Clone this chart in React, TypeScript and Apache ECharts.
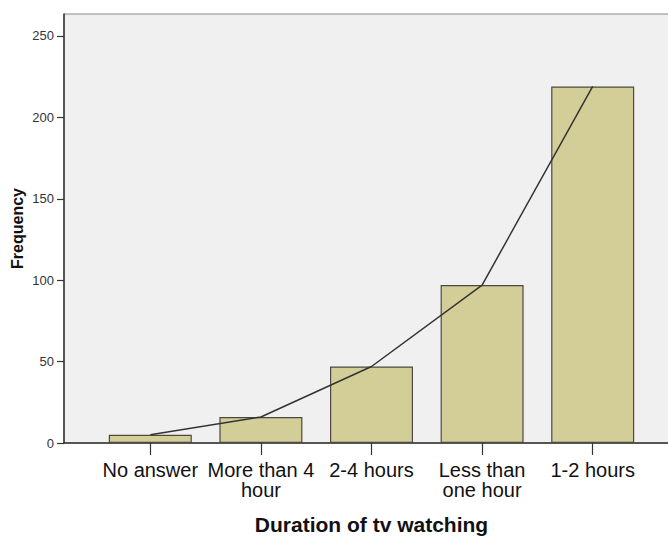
import React, { useEffect, useRef } from "react";
import * as echarts from "echarts";

const categories = ["No answer", "More than 4\nhour", "2-4 hours", "Less than\none hour", "1-2 hours"];
const frequencies = [5, 16, 47, 97, 219];
const yTicks = [0, 50, 100, 150, 200, 250];
const yMax = 263.5;
const xTitle = "Duration of tv watching";
const yTitle = "Frequency";

const FONT = "'Liberation Sans', Arial, sans-serif";

export default function App() {
  const ref = useRef<HTMLDivElement>(null);
  useEffect(() => {
    if (!ref.current) return;
    const chart = echarts.init(ref.current, undefined, { renderer: "svg" });
    chart.setOption({
      animation: false,
      backgroundColor: "#ffffff",
      textStyle: { fontFamily: FONT },
      grid: [
        {
          left: 64, right: -1, top: 14, bottom: 93, outerBoundsMode: "none", containLabel: false,
          show: true, backgroundColor: "#f0f0f0", borderColor: "#8a8a8a", borderWidth: 1,
        },
        { left: 95, width: 553, top: 14, bottom: 93, outerBoundsMode: "none", containLabel: false },
      ],
      xAxis: [
        {
          gridIndex: 0, type: "value", min: 0, max: 1,
          axisLine: { show: true, onZero: false, lineStyle: { color: "#333", width: 1.5 } },
          axisTick: { show: false }, axisLabel: { show: false }, splitLine: { show: false },
        },
        {
          gridIndex: 1, type: "category", data: categories,
          axisLine: { show: false },
          axisTick: { show: true, alignWithLabel: true, length: 12, lineStyle: { color: "#333", width: 1.2 } },
          axisLabel: { fontSize: 20, lineHeight: 20, color: "#111", margin: 17, fontFamily: FONT, interval: 0 },
          name: xTitle, nameLocation: "middle", nameGap: 71, nameMoveOverlap: false,
          nameTextStyle: { fontSize: 21, fontWeight: "bold", color: "#111", fontFamily: FONT },
        },
      ],
      yAxis: [
        {
          gridIndex: 0, type: "value", min: 0, max: yMax,
          axisLine: { show: true, lineStyle: { color: "#333", width: 1.5 } },
          axisTick: { show: true, length: 7, customValues: yTicks, lineStyle: { color: "#333", width: 1.2 } },
          axisLabel: { fontSize: 13, color: "#333", margin: 10, customValues: yTicks, fontFamily: FONT },
          splitLine: { show: false },
          name: yTitle, nameLocation: "middle", nameGap: 39, nameRotate: 90, nameMoveOverlap: false,
          nameTextStyle: { fontSize: 16, fontWeight: "bold", color: "#111", fontFamily: FONT },
        },
        {
          gridIndex: 1, type: "value", min: 0, max: yMax, show: false,
        },
      ],
      series: [
        {
          type: "bar", xAxisIndex: 1, yAxisIndex: 1, data: frequencies, barWidth: 83,
          itemStyle: { color: "#d3ce97", borderColor: "#4a4a42", borderWidth: 1.2 },
          z: 2,
        },
        {
          type: "line", xAxisIndex: 1, yAxisIndex: 1, data: frequencies,
          symbol: "none", lineStyle: { color: "#333", width: 1.5 }, z: 3,
        },
      ],
    });
    return () => chart.dispose();
  }, []);
  return (
    <div
      ref={ref}
      style={{ position: "absolute", left: 0, top: 0, width: 668, height: 536 }}
    />
  );
}
